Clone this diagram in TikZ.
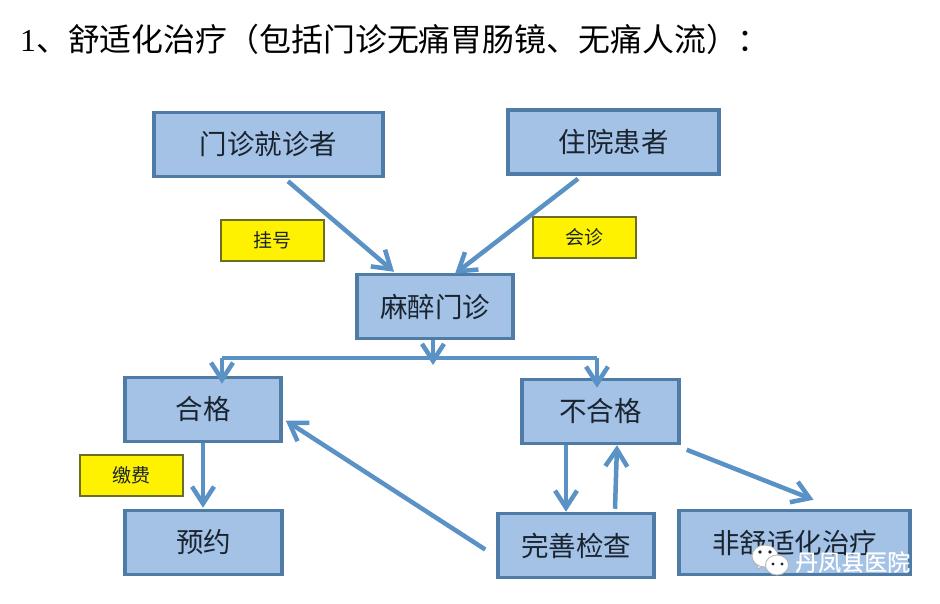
\documentclass[tikz,border=0pt]{standalone}
\usepackage{fontspec}
\setmainfont{Noto Sans CJK SC}
\newfontfamily\titlelatin{Liberation Serif}
\usetikzlibrary{arrows.meta}
\definecolor{boxfill}{HTML}{A3C2E6}
\definecolor{boxline}{HTML}{4F7CA6}
\definecolor{arrowc}{HTML}{5B92C6}
\definecolor{yellowline}{HTML}{6E6E20}
\definecolor{inkc}{HTML}{1A2430}
\tikzset{
  bluebox/.style={draw=boxline,line width=3.5pt,fill=boxfill,minimum height=64pt,text=inkc,font=\fontsize{27.5pt}{30pt}\selectfont,inner sep=0pt},
  notebox/.style={draw=yellowline,line width=2.5pt,fill=yellow,minimum width=103pt,minimum height=41pt,text=inkc,font=\fontsize{19pt}{21pt}\selectfont,inner sep=0pt},
  flow/.style={draw=arrowc,line width=4.5pt,-{Straight Barb[length=17pt,width=22pt,line width=4.5pt]}},
  barline/.style={draw=arrowc,line width=4.5pt},
  bubble/.style={draw=gray!60,line width=.8pt,fill=white},
  mark text/.style={text=white,font=\fontsize{23pt}{25pt}\selectfont\addfontfeature{FakeBold=0.6},inner sep=0pt}
}
\begin{document}
\begin{tikzpicture}[x=1pt,y=-1pt]
\useasboundingbox[fill=white] (0,0) rectangle (940,603);
\node[anchor=west,inner sep=0pt,font=\fontsize{31.9pt}{34pt}\selectfont,text=black] (title) at (20,39) {{\titlelatin 1}、舒适化治疗（包括门诊无痛胃肠镜、无痛人流）：};
\node[bluebox,minimum width=229pt] (mz) at (268.5,144.5) {门诊就诊者};
\node[bluebox,minimum width=211pt] (zy) at (613.5,142) {住院患者};
\node[notebox] (gh) at (272.5,240.5) {挂号};
\node[notebox] (hz) at (584.5,237.5) {会诊};
\node[bluebox,minimum width=156pt] (mzz) at (435,306.5) {麻醉门诊};
\node[bluebox,minimum width=156pt] (hg) at (203,409.5) {合格};
\node[bluebox,minimum width=157pt] (bhg) at (600.5,411.5) {不合格};
\node[notebox] (jf) at (131.5,475.5) {缴费};
\node[bluebox,minimum width=157pt] (yy) at (203.5,542.5) {预约};
\node[bluebox,minimum width=156pt] (ws) at (576,545.5) {完善检查};
\node[bluebox,minimum width=231pt] (fss) at (794.5,542.5) {非舒适化治疗};
\coordinate (barL) at (222,358);
\coordinate (barM) at (433,358);
\coordinate (barR) at (597,358);
\draw[flow] ([xshift=19.5pt,yshift=-3pt]mz.south) -- ([xshift=-41pt,yshift=1pt]mzz.north);
\draw[flow] ([xshift=-35.5pt,yshift=-3pt]zy.south) -- ([xshift=20pt,yshift=-1pt]mzz.north);
\draw[barline] (barL) -- (barR);
\draw[flow] ([xshift=-2pt]mzz.south) -- ([yshift=-7pt]barM);
\draw[flow] (barL) -- ([yshift=-8pt]barL |- hg.north);
\draw[flow] (barR) -- ([yshift=-10pt]barR |- bhg.north);
\draw[flow] (hg.south) -- ([yshift=1pt]hg.south |- yy.north);
\draw[flow] (ws.west) ++(-11pt,-4pt) -- ([xshift=3pt,yshift=-11pt]hg.east);
\draw[flow] ([xshift=-34.5pt]bhg.south) -- ([xshift=-34.5pt]bhg.south |- ws.north);
\draw[flow] ([xshift=39pt,yshift=3pt]ws.north) -- ([xshift=16.5pt,yshift=0pt]bhg.south);
\draw[flow] ([xshift=6pt,yshift=-4.5pt]bhg.south east) -- ([xshift=19pt,yshift=9pt]fss.north);
\path[bubble] (757,569) -- (761,558) -- (768,564) -- cycle;
\path[bubble] (765,556) ellipse [x radius=13pt,y radius=11pt];
\path[bubble] (777,565) ellipse [x radius=11.5pt,y radius=10pt];
\fill[inkc] (760,552) circle (1.8pt) (770,552) circle (1.8pt) (773,564) circle (1.6pt) (782,564) circle (1.6pt);
\node[mark text,anchor=west] (wm) at (795,562) {丹凤县医院};
\end{tikzpicture}
\end{document}
